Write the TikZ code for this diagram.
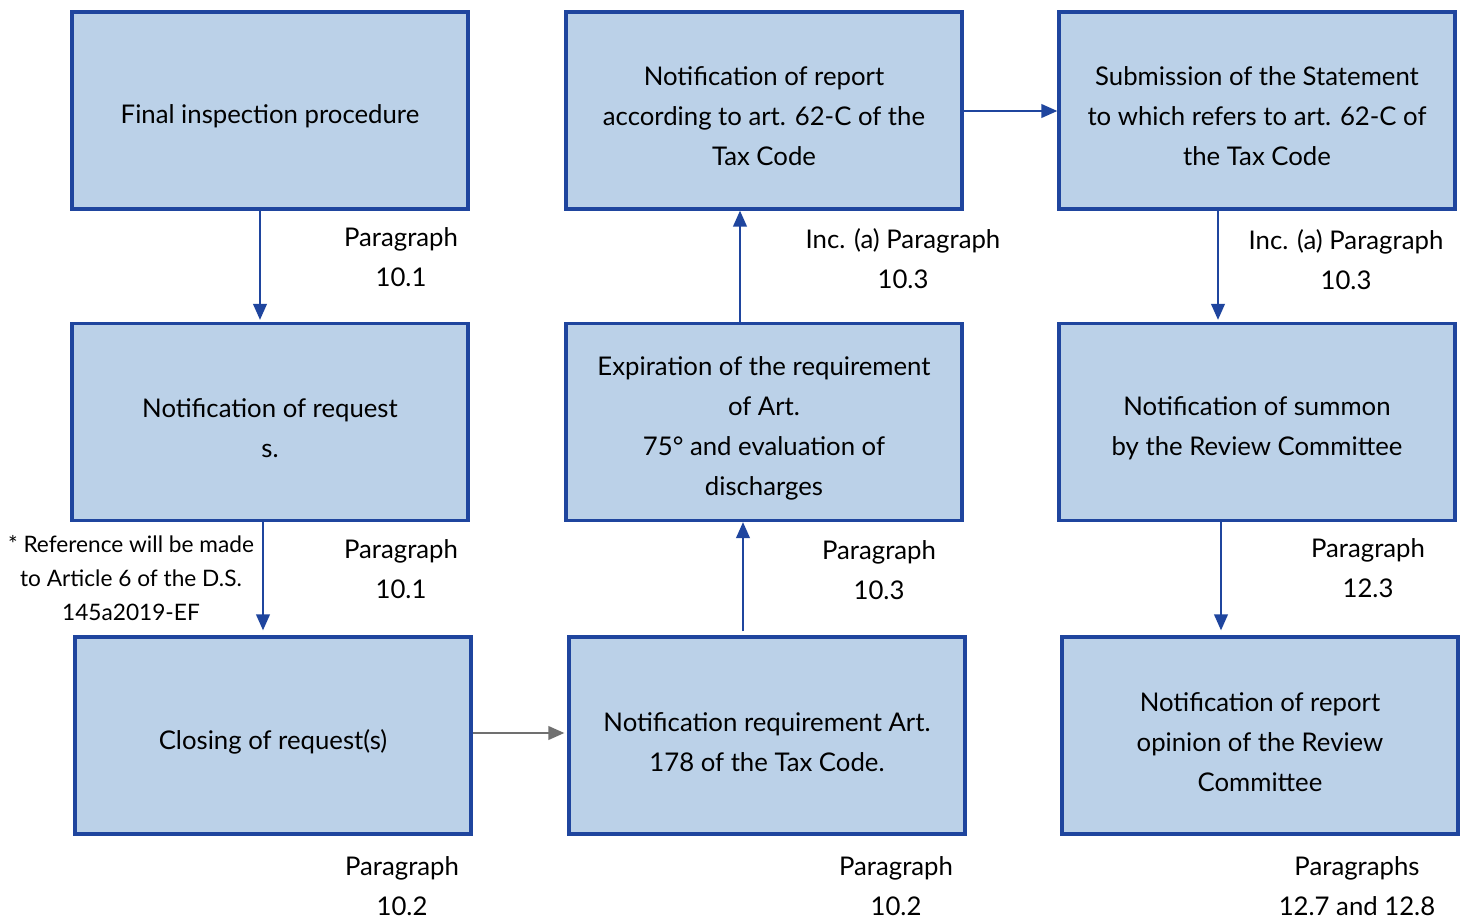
\documentclass[tikz,border=0pt]{standalone}
\usepackage{fontspec}
\setmainfont{Lato}
\usetikzlibrary{arrows.meta,calc}
\definecolor{boxfill}{RGB}{187,209,232}
\definecolor{boxline}{RGB}{31,69,158}
\definecolor{greyarrow}{RGB}{112,112,112}
\tikzset{
  box/.style={draw=boxline, line width=2.3pt, fill=boxfill, minimum width=297pt, minimum height=147.75pt, inner sep=0pt},
  txt/.style={align=center, font=\fontsize{19.3}{30}\selectfont, inner sep=0pt},
  lbl/.style={align=center, font=\fontsize{19.3}{30}\selectfont, inner sep=0pt},
  note/.style={align=center, font=\fontsize{17}{25.5}\selectfont, inner sep=0pt},
  arr/.style={draw=boxline, line width=2pt, -{Triangle[length=12pt,width=10pt]}},
  garr/.style={draw=greyarrow, line width=2pt, -{Triangle[length=12pt,width=10pt]}}
}
\begin{document}
\begin{tikzpicture}[x=0.75pt,y=-0.75pt]
\useasboundingbox (0,0) rectangle (1461,920);
% boxes
\node[box] (A) at (270,110.5) {};
\node[box] (B) at (764,110.5) {};
\node[box] (C) at (1257,110.5) {};
\node[box] (D) at (270,422) {};
\node[box] (E) at (764,422) {};
\node[box] (F) at (1257,422) {};
\node[box] (G) at (273,735.5) {};
\node[box] (H) at (767,735.5) {};
\node[box] (I) at (1260,735.5) {};
% box texts
\node[txt] (At) at (270,116) {Final inspection procedure};
\node[txt] (Bt) at (764,116) {Notification of report\\according to art. 62-C of the\\Tax Code};
\node[txt] (Ct) at (1257,116) {Submission of the Statement\\to which refers to art. 62-C of\\the Tax Code};
\node[txt] (Dt) at (270,428) {Notification of request\\s.};
\node[txt] (Et) at (764,428) {Expiration of the requirement\\of Art.\\75° and evaluation of\\discharges};
\node[txt] (Ft) at (1257,428) {Notification of summon\\by the Review Committee};
\node[txt] (Gt) at (273,742) {Closing of request(s)};
\node[txt] (Ht) at (767,742) {Notification requirement Art.\\178 of the Tax Code.};
\node[txt] (It) at (1260,742) {Notification of report\\opinion of the Review\\Committee};
% labels
\node[lbl] (L1) at (401,257) {Paragraph\\10.1};
\node[lbl] (L2) at (401,569) {Paragraph\\10.1};
\node[lbl] (L3) at (402,886) {Paragraph\\10.2};
\node[lbl] (L4) at (903,259) {Inc. (a) Paragraph\\10.3};
\node[lbl] (L5) at (879,570) {Paragraph\\10.3};
\node[lbl] (L6) at (896,886) {Paragraph\\10.2};
\node[lbl] (L7) at (1346,260) {Inc. (a) Paragraph\\10.3};
\node[lbl] (L8) at (1368,568.5) {Paragraph\\12.3};
\node[lbl] (L9) at (1357,886) {Paragraphs\\12.7 and 12.8};
\node[note] (N) at (131,578) {* Reference will be made\\to Article 6 of the D.S.\\145a2019-EF};
% connectors
\draw[arr] ($(A.south)+(-10,0)$) -- ($(D.north)+(-10,-2)$);
\draw[arr] ($(D.south)+(-7,0)$) -- ($(G.north)+(-10,-5)$);
\draw[garr] ($(G.east)+(0,-2.5)$) -- ($(H.west)+(-3,-2.5)$);
\draw[arr] ($(H.north)+(-24,-4)$) -- ($(E.south)+(-21,0)$);
\draw[arr] ($(E.north)+(-24,0)$) -- ($(B.south)+(-24,0)$);
\draw[arr] ($(B.east)+(0,0.5)$) -- ($(C.west)+(0,0.5)$);
\draw[arr] ($(C.south)+(-39,0)$) -- ($(F.north)+(-39,-2)$);
\draw[arr] ($(F.south)+(-36,0)$) -- ($(I.north)+(-39,-5)$);
\end{tikzpicture}
\end{document}
